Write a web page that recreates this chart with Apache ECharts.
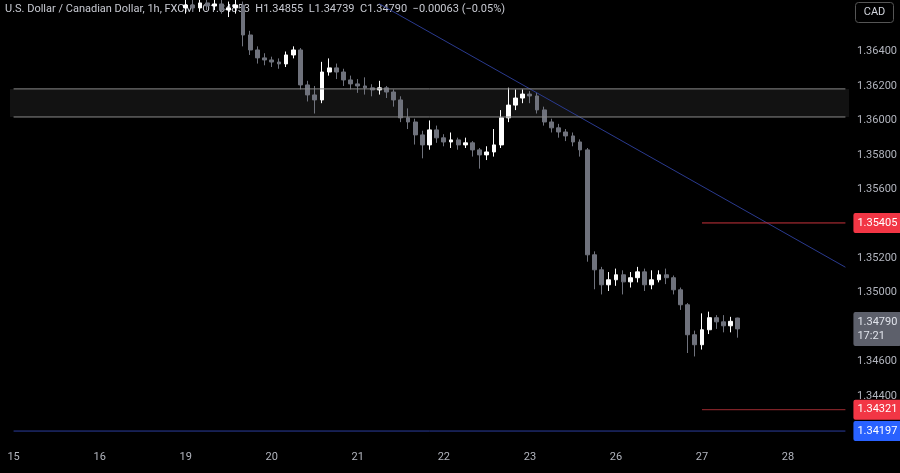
<!DOCTYPE html>
<html>
<head>
<meta charset="utf-8">
<script src="https://cdn.jsdelivr.net/npm/echarts@6/dist/echarts.min.js"></script>
<style>
  html, body { margin: 0; padding: 0; background: #000; }
  #chart { width: 900px; height: 473px; }
</style>
</head>
<body>
<div id="chart"></div>
<script>
// day labels, 12 two-hour bars per trading day
const days = ['15', '16', '19', '20', '21', '22', '23', '26', '27', '28'];
const barsPerDay = 12;
const barCount = 117;

// [open, close, low, high] per bar, days 19 .. 27 (15 and 16 are above the view)
const candles19 = [
  [1.36653, 1.36670, 1.36620, 1.36720], [1.36670, 1.36653, 1.36630, 1.36700], [1.36653, 1.36682, 1.36630, 1.36720],
  [1.36682, 1.36664, 1.36640, 1.36710], [1.36664, 1.36676, 1.36640, 1.36710], [1.36676, 1.36641, 1.36620, 1.36700],
  [1.36641, 1.36653, 1.36600, 1.36690], [1.36653, 1.36670, 1.36620, 1.36710], [1.36670, 1.36496, 1.36430, 1.36690],
  [1.36496, 1.36409, 1.36380, 1.36520], [1.36409, 1.36363, 1.36330, 1.36430], [1.36363, 1.36351, 1.36320, 1.36390]
];
const candles20 = [
  [1.36351, 1.36339, 1.36310, 1.36370], [1.36339, 1.36328, 1.36300, 1.36360], [1.36328, 1.36380, 1.36310, 1.36400],
  [1.36380, 1.36409, 1.36360, 1.36430], [1.36409, 1.36206, 1.36180, 1.36420], [1.36206, 1.36148, 1.36110, 1.36230],
  [1.36148, 1.36119, 1.36040, 1.36200], [1.36119, 1.36281, 1.36100, 1.36340], [1.36281, 1.36305, 1.36260, 1.36360],
  [1.36305, 1.36281, 1.36240, 1.36330], [1.36281, 1.36235, 1.36200, 1.36300], [1.36235, 1.36212, 1.36180, 1.36260]
];
const candles21 = [
  [1.36212, 1.36200, 1.36160, 1.36240], [1.36200, 1.36189, 1.36150, 1.36250], [1.36189, 1.36177, 1.36140, 1.36210],
  [1.36177, 1.36189, 1.36150, 1.36230], [1.36189, 1.36165, 1.36130, 1.36200], [1.36165, 1.36119, 1.36080, 1.36180],
  [1.36119, 1.36015, 1.35990, 1.36140], [1.36015, 1.35991, 1.35950, 1.36070], [1.35991, 1.35916, 1.35860, 1.36010],
  [1.35916, 1.35858, 1.35780, 1.35940], [1.35858, 1.35945, 1.35830, 1.36000], [1.35945, 1.35899, 1.35870, 1.35970]
];
const candles22 = [
  [1.35899, 1.35875, 1.35850, 1.35920], [1.35875, 1.35887, 1.35840, 1.35930], [1.35887, 1.35858, 1.35830, 1.35900],
  [1.35858, 1.35870, 1.35840, 1.35900], [1.35870, 1.35829, 1.35790, 1.35880], [1.35829, 1.35800, 1.35720, 1.35840],
  [1.35800, 1.35817, 1.35770, 1.35850], [1.35817, 1.35858, 1.35790, 1.35950], [1.35858, 1.36015, 1.35840, 1.36060],
  [1.36015, 1.36089, 1.35990, 1.36190], [1.36089, 1.36130, 1.36060, 1.36180], [1.36130, 1.36153, 1.36100, 1.36180]
];
const candles23 = [
  [1.36153, 1.36142, 1.36100, 1.36170], [1.36142, 1.36061, 1.36040, 1.36160], [1.36061, 1.35991, 1.35970, 1.36080],
  [1.35991, 1.35957, 1.35930, 1.36010], [1.35957, 1.35933, 1.35900, 1.35980], [1.35933, 1.35910, 1.35880, 1.35950],
  [1.35910, 1.35875, 1.35850, 1.35930], [1.35875, 1.35829, 1.35790, 1.35890], [1.35829, 1.35220, 1.35180, 1.35840],
  [1.35220, 1.35133, 1.35020, 1.35240], [1.35133, 1.35046, 1.34990, 1.35150], [1.35046, 1.35075, 1.35010, 1.35120]
];
const candles26 = [
  [1.35075, 1.35104, 1.35040, 1.35140], [1.35104, 1.35063, 1.34990, 1.35130], [1.35063, 1.35087, 1.35030, 1.35120],
  [1.35087, 1.35121, 1.35060, 1.35150], [1.35121, 1.35046, 1.35010, 1.35140], [1.35046, 1.35075, 1.35020, 1.35130],
  [1.35075, 1.35104, 1.35060, 1.35130], [1.35104, 1.35087, 1.35050, 1.35140], [1.35087, 1.35017, 1.34990, 1.35100],
  [1.35017, 1.34930, 1.34900, 1.35030], [1.34930, 1.34756, 1.34650, 1.34940], [1.34756, 1.34698, 1.34630, 1.34780]
];
const candles27 = [
  [1.34698, 1.34785, 1.34670, 1.34880], [1.34785, 1.34855, 1.34760, 1.34890], [1.34855, 1.34831, 1.34790, 1.34870],
  [1.34831, 1.34808, 1.34770, 1.34870], [1.34808, 1.34834, 1.34770, 1.34860], [1.34853, 1.34790, 1.34739, 1.34855]
];

// levels
const zoneLow = 1.36020;
const zoneHigh = 1.36183;
const resistance = 1.35405;
const support = 1.34321;
const blueLevel = 1.34197;
const lastPrice = 1.34790;
const trendStart = [51, 1.36677];
const trendEnd = [116, 1.35148];

const categories = [];
for (let i = 0; i < barCount; i++) {
  categories.push(i % barsPerDay === 0 ? days[i / barsPerDay] : '');
}
const seriesData = [];
for (let i = 0; i < barsPerDay * 2; i++) seriesData.push('-');
[candles19, candles20, candles21, candles22, candles23, candles26, candles27].forEach(d => {
  d.forEach(c => seriesData.push(c));
});
while (seriesData.length < barCount) seriesData.push('-');

function segment(startIdx, startVal, endVal) {
  const d = categories.map(() => '-');
  d[startIdx] = startVal;
  d[barCount - 1] = endVal;
  return d;
}

function levelSeries(price, startIdx, color, tagBg, tagText, tagColor) {
  return {
    type: 'line', silent: true, symbol: 'none', connectNulls: true,
    data: segment(startIdx, price, price),
    lineStyle: { color: color, width: 1 },
    endLabel: tagBg ? {
      show: true, distance: 8, formatter: tagText || price.toFixed(5),
      backgroundColor: tagBg, color: tagColor || '#fff', padding: [3, 4], borderRadius: 2,
      fontSize: 11, fontFamily: 'Roboto', lineHeight: 14
    } : { show: false }
  };
}

const chart = echarts.init(document.getElementById('chart'));
chart.setOption({
  backgroundColor: '#000',
  animation: false,
  grid: { left: 10, right: 50, top: 0, bottom: 8 },
  xAxis: {
    type: 'category',
    data: categories,
    axisLine: { show: false },
    axisTick: { show: false },
    splitLine: { show: false },
    axisLabel: {
      inside: true, margin: 2, interval: 0, color: '#b2b5be',
      fontSize: 11, fontFamily: 'Roboto', align: 'center'
    }
  },
  yAxis: {
    type: 'value',
    position: 'right',
    min: 1.340,
    max: 1.36699,
    interval: 0.002,
    axisLine: { show: false },
    axisTick: { show: false },
    splitLine: { show: false },
    axisLabel: {
      color: '#b2b5be', fontSize: 11, fontFamily: 'Roboto', margin: 8,
      formatter: v => (v > 1.3655 || v < 1.3435 || Math.abs(v - 1.348) < 1e-6 || Math.abs(v - 1.354) < 1e-6) ? '' : v.toFixed(5)
    }
  },
  graphic: [
    {
      type: 'text', left: 5, top: 4,
      style: {
        text: 'U.S. Dollar / Canadian Dollar, 1h, FXCM   O1.34853  H1.34855  L1.34739  C1.34790  −0.00063 (−0.05%)',
        fill: '#c8cad2', fontSize: 11, fontFamily: 'Roboto'
      }
    },
    {
      type: 'group', right: 6, top: 2,
      children: [
        { type: 'rect', shape: { x: 0, y: 0, width: 38, height: 20, r: 3 }, style: { fill: '#000', stroke: '#555' } },
        { type: 'text', x: 19, y: 10, style: { text: 'CAD', fill: '#d1d4dc', fontSize: 11, fontFamily: 'Roboto', align: 'center', verticalAlign: 'middle' } }
      ]
    }
  ],
  series: [
    {
      type: 'candlestick',
      data: seriesData,
      barWidth: '60%',
      itemStyle: {
        color: '#ffffff', color0: '#6f727c',
        borderColor: '#ffffff', borderColor0: '#6f727c', borderWidth: 1
      },
      markArea: {
        silent: true,
        itemStyle: { color: '#121212', borderWidth: 0 },
        data: [[{ yAxis: zoneLow }, { yAxis: zoneHigh }]]
      }
    },
    {
      type: 'line', silent: true, symbol: 'none', connectNulls: true,
      data: segment(trendStart[0], trendStart[1], trendEnd[1]),
      lineStyle: { color: '#2a3a8f', width: 1 }
    },
    levelSeries(zoneLow, 0, '#8a8a8a', null),
    levelSeries(zoneHigh, 0, '#8a8a8a', null),
    levelSeries(resistance, 96, '#c8323c', '#f23645'),
    levelSeries(support, 96, '#9c2a30', '#f23645'),
    levelSeries(blueLevel, 0, '#2b3d9e', '#2962ff'),
    levelSeries(lastPrice, barCount - 2, 'rgba(0,0,0,0)', '#5d606b', lastPrice.toFixed(5) + '\n17:21', '#e0e3eb')
  ]
});
</script>
</body>
</html>
